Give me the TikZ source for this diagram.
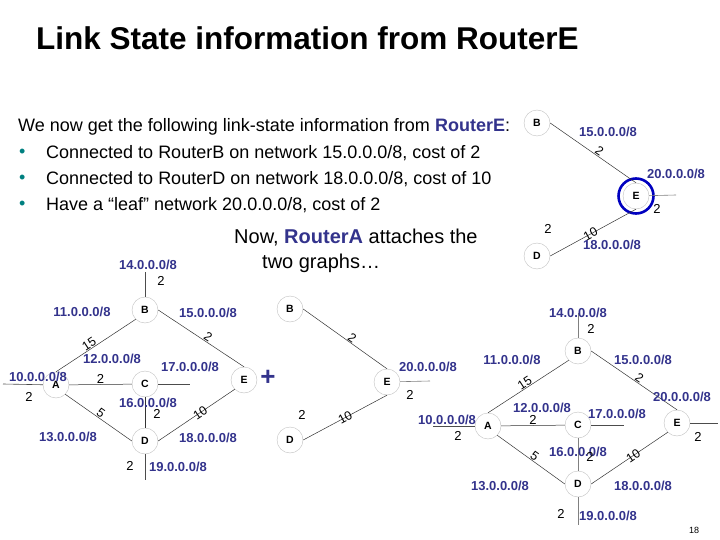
\documentclass[tikz,border=0pt]{standalone}
\usepackage{fontspec}
\setmainfont{Liberation Sans}
\definecolor{netblue}{RGB}{51,51,140}
\definecolor{bullet}{RGB}{0,128,128}
\begin{document}
\begin{tikzpicture}[x=1pt,y=-1pt,
  router/.style={circle,draw=gray!50,thin,minimum size=26pt,inner sep=0pt,font=\bfseries\fontsize{10.5}{12}\selectfont},
  net/.style={text=netblue,font=\bfseries\fontsize{13}{15}\selectfont,inner sep=0pt},
  cost/.style={font=\fontsize{13}{15}\selectfont,inner sep=1pt},
  ecost/.style={font=\fontsize{12.5}{14}\selectfont,inner sep=0.5pt,sloped},
  link/.style={draw=black!80,line width=0.5pt},
  leaf/.style={draw=black!70,line width=0.6pt}]
\useasboundingbox (0,0) rectangle (720,540);
% title
\node[anchor=west,font=\bfseries\fontsize{31.5}{34}\selectfont,inner sep=0pt] (title) at (36,38) {Link State information from RouterE};
% text
\begin{scope}[every node/.style={anchor=west,font=\fontsize{18}{20}\selectfont,inner sep=0pt}]
\node (t0) at (18,127) {We now get the following link-state information from \textcolor{netblue}{\textbf{RouterE}}:};
\node (t1) at (46,153) {Connected to RouterB on network 15.0.0.0/8, cost of 2};
\node (t2) at (46,179) {Connected to RouterD on network 18.0.0.0/8, cost of 10};
\node (t3) at (46,205) {Have a “leaf” network 20.0.0.0/8, cost of 2};
\node[text=bullet] (b1) at (19,153) {•};
\node[text=bullet] (b2) at (19,179) {•};
\node[text=bullet] (b3) at (19,205) {•};
\end{scope}
\begin{scope}[every node/.style={anchor=west,font=\fontsize{20}{22}\selectfont,inner sep=0pt}]
\node (now1) at (234,238) {Now, \textcolor{netblue}{\textbf{RouterA}} attaches the};
\node (now2) at (262,263) {two graphs…};
\end{scope}
% ---------- top right graph ----------
\node[router] (tB) at (537,123) {B};
\node[router] (tE) at (636,196) {E};
\node[router] (tD) at (537,256) {D};
\draw[blue!75!black,line width=2.6pt] (tE) circle (17.5pt);
\coordinate (tEl) at (676,195);
\draw[link] (tB.east) -- node[ecost,pos=0.54,above] {2} (tE.north);
\draw[link] (tD.east) -- node[ecost,pos=0.47] {10} (tE.south);
\draw[leaf,draw=gray] (tE) -- (tEl);
\node[net] (tn15) at (608,132) {15.0.0.0/8};
\node[net] (tn20) at (676,174) {20.0.0.0/8};
\node[net] (tn18) at (612,245) {18.0.0.0/8};
\node[cost] (tc1) at (657,209) {2};
\node[cost] (tc2) at (548,229) {2};
% ---------- left graph ----------
\node[router] (lB) at (145,310) {B};
\node[router] (lA) at (56,385) {A};
\node[router] (lC) at (145,384) {C};
\node[router] (lE) at (244,380) {E};
\node[router] (lD) at (145,441) {D};
\coordinate (lBt) at (145,272);
\coordinate (lAl) at (3,384);
\coordinate (lCr) at (190,384);
\coordinate (lDb) at (145,480);
\draw[leaf] (lB) -- (lBt);
\draw[leaf] (lA) -- (lAl);
\draw[leaf] (lC) -- (lCr);
\draw[leaf] (lD) -- (lDb);
\draw[link] (lA.north) -- node[ecost,pos=0.45,above] {15} (lB.south west);
\draw[link] (lB.east) -- node[ecost,pos=0.55,above] {2} (lE.north);
\draw[link] (lA) -- node[cost,pos=0.5,above] {2} (lC);
\draw[link] (lA.south east) -- node[ecost,pos=0.49,above] {5} (lD.west);
\draw[link] (lC) -- (lD);
\draw[link] (lD.east) -- node[ecost,pos=0.55] {10} (lE.south west);
\node[net] at (148,265) {14.0.0.0/8};
\node[cost] at (161,281) {2};
\node[net] at (82,312) {11.0.0.0/8};
\node[net] at (208,313) {15.0.0.0/8};
\node[net] at (38,377) {10.0.0.0/8};
\node[cost] at (29,397) {2};
\node[net] at (112,359) {12.0.0.0/8};
\node[net] at (190,367) {17.0.0.0/8};
\node[net] at (148,403) {16.0.0.0/8};
\node[cost] at (157,414) {2};
\node[net] at (68,437) {13.0.0.0/8};
\node[net] at (208,438) {18.0.0.0/8};
\node[cost] at (130,466) {2};
\node[net] at (178,467) {19.0.0.0/8};
% plus
\node[text=netblue,font=\bfseries\fontsize{26}{28}\selectfont,inner sep=0pt] (plus) at (268,378) {+};
% ---------- middle graph ----------
\node[router] (mB) at (290,309) {B};
\node[router] (mE) at (387,382) {E};
\node[router] (mD) at (290,440) {D};
\coordinate (mEr) at (430,381);
\draw[link] (mB.east) -- node[ecost,pos=0.55,above] {2} (mE.north);
\draw[link] (mD.east) -- node[ecost,pos=0.5] {10} (mE.south);
\draw[leaf,draw=gray] (mE) -- (mEr);
\node[net] at (428,367) {20.0.0.0/8};
\node[cost] at (410,395) {2};
\node[cost] at (302,415) {2};
% ---------- right graph ----------
\node[router] (rB) at (578,351) {B};
\node[router] (rA) at (488,426) {A};
\node[router] (rC) at (578,425) {C};
\node[router] (rE) at (677,423) {E};
\node[router] (rD) at (578,484) {D};
\coordinate (rBt) at (578,313);
\coordinate (rAl) at (433,426);
\coordinate (rCr) at (624,425);
\coordinate (rDb) at (578,525);
\coordinate (rEr) at (718,423);
\draw[leaf,draw=gray] (rB) -- (rBt);
\draw[leaf] (rA) -- (rAl);
\draw[leaf] (rC) -- (rCr);
\draw[leaf,draw=gray] (rD) -- (rDb);
\draw[leaf] (rE) -- (rEr);
\draw[link] (rA.north) -- node[ecost,pos=0.49,above] {15} (rB.south west);
\draw[link] (rB.east) -- node[ecost,pos=0.53,above] {2} (rE.north);
\draw[link] (rA) -- node[cost,pos=0.5,above] {2} (rC);
\draw[link] (rA.south east) -- node[ecost,pos=0.51,above] {5} (rD.west);
\draw[link,draw=gray] (rC) -- (rD);
\draw[link] (rD.east) -- node[ecost,pos=0.55] {10} (rE.south west);
\node[net] at (578,313) {14.0.0.0/8};
\node[cost] at (591,329) {2};
\node[net] at (512,360) {11.0.0.0/8};
\node[net] at (643,360) {15.0.0.0/8};
\node[net] at (682,397) {20.0.0.0/8};
\node[net] at (542,408) {12.0.0.0/8};
\node[net] at (617,414) {17.0.0.0/8};
\node[net] at (447,420) {10.0.0.0/8};
\node[cost] at (458,436) {2};
\node[net] at (578,452) {16.0.0.0/8};
\node[cost] at (590,457) {2};
\node[cost] at (698,437) {2};
\node[net] at (500,486) {13.0.0.0/8};
\node[net] at (643,486) {18.0.0.0/8};
\node[cost] at (561,514) {2};
\node[net] at (608,516) {19.0.0.0/8};
\node[font=\fontsize{9}{10}\selectfont,inner sep=0pt] (pg) at (694,530) {18};
\end{tikzpicture}
\end{document}
